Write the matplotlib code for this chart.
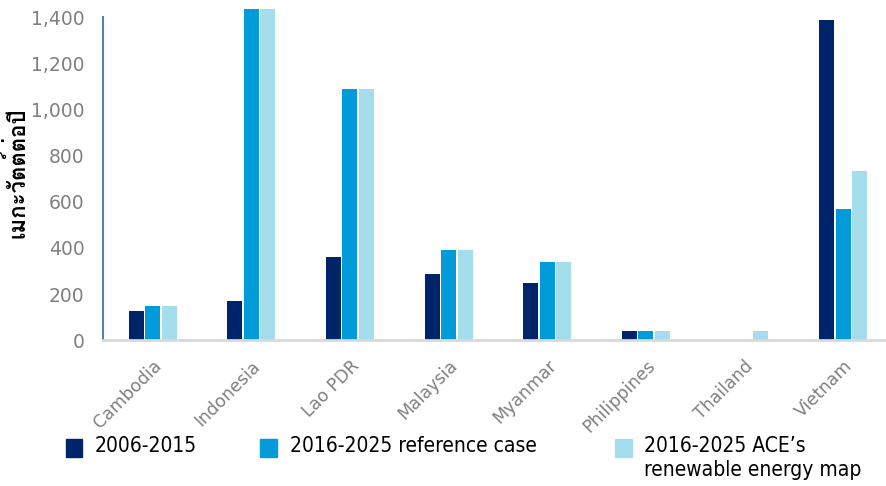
import matplotlib
matplotlib.use("Agg")
import matplotlib.pyplot as plt
import matplotlib.patches as mpatches
import numpy as np
from matplotlib import font_manager, ft2font

countries = ["Cambodia", "Indonesia", "Lao PDR", "Malaysia", "Myanmar",
             "Philippines", "Thailand", "Vietnam"]
past = [126, 170, 361, 287, 248, 39, 0, 1387]
reference_case = [148, 1435, 1091, 391, 339, 39, 0, 570]
ace_map = [148, 1435, 1091, 391, 339, 39, 39, 735]

series_labels = ["2006-2015", "2016-2025 reference case",
                 "2016-2025 ACE\u2019s\nrenewable energy map"]
y_ticks = [0, 200, 400, 600, 800, 1000, 1200, 1400]
y_label = "เมกะวัตต์ต่อปี"

DARK = "#002469"
MID = "#009BD8"
LIGHT = "#A4DDEC"
GREY = "#808080"


def thai_family():
    # pick the first installed font that has Thai glyphs
    for f in font_manager.fontManager.ttflist:
        try:
            if ord("ก") in ft2font.FT2Font(f.fname).get_charmap():
                return f.name
        except Exception:
            pass
    return "DejaVu Sans"


fig = plt.figure(figsize=(8.86, 4.86), dpi=100)
ax = fig.add_axes([0.116, 0.300, 0.884, 0.664])

x = np.arange(len(countries))
w = 0.152
for i, (vals, col) in enumerate(zip([past, reference_case, ace_map], [DARK, MID, LIGHT])):
    ax.bar(x + (i - 1) * (w + 0.016), vals, width=w, color=col, clip_on=False)

ax.set_xlim(-0.507, 7.436)
ax.set_ylim(0, 1400)
ax.set_yticks(y_ticks)
ax.set_yticklabels([f"{v:,}" for v in y_ticks], color=GREY, fontsize=13.5)
ax.tick_params(axis="y", length=0, pad=13)
ax.tick_params(axis="x", length=0, pad=12)
ax.set_xticks(x)
ax.set_xticklabels(countries, rotation=45, ha="right", rotation_mode="anchor",
                   color=GREY, fontsize=12.5)

for s in ["top", "right"]:
    ax.spines[s].set_visible(False)
ax.spines["left"].set_color("#5b7fa0")
ax.spines["left"].set_linewidth(1.5)
ax.spines["bottom"].set_color("#d9d9d9")
ax.spines["bottom"].set_linewidth(2)

fig.text(0.018, 0.644, y_label, rotation=90, ha="center", va="center",
         fontsize=16, fontweight="bold", family=[thai_family(), "DejaVu Sans"])

# legend row under the axis labels
legend_x = [0.074, 0.294, 0.694]
for lx, col, lab in zip(legend_x, [DARK, MID, LIGHT], series_labels):
    fig.patches.append(mpatches.Rectangle((lx, 0.060), 0.019, 0.036, color=col,
                                          transform=fig.transFigure, figure=fig))
    fig.text(lx + 0.033, 0.103, lab, ha="left", va="top", fontsize=15,
             fontstretch="condensed", linespacing=1.25)

fig.savefig("out.png", dpi=100)
